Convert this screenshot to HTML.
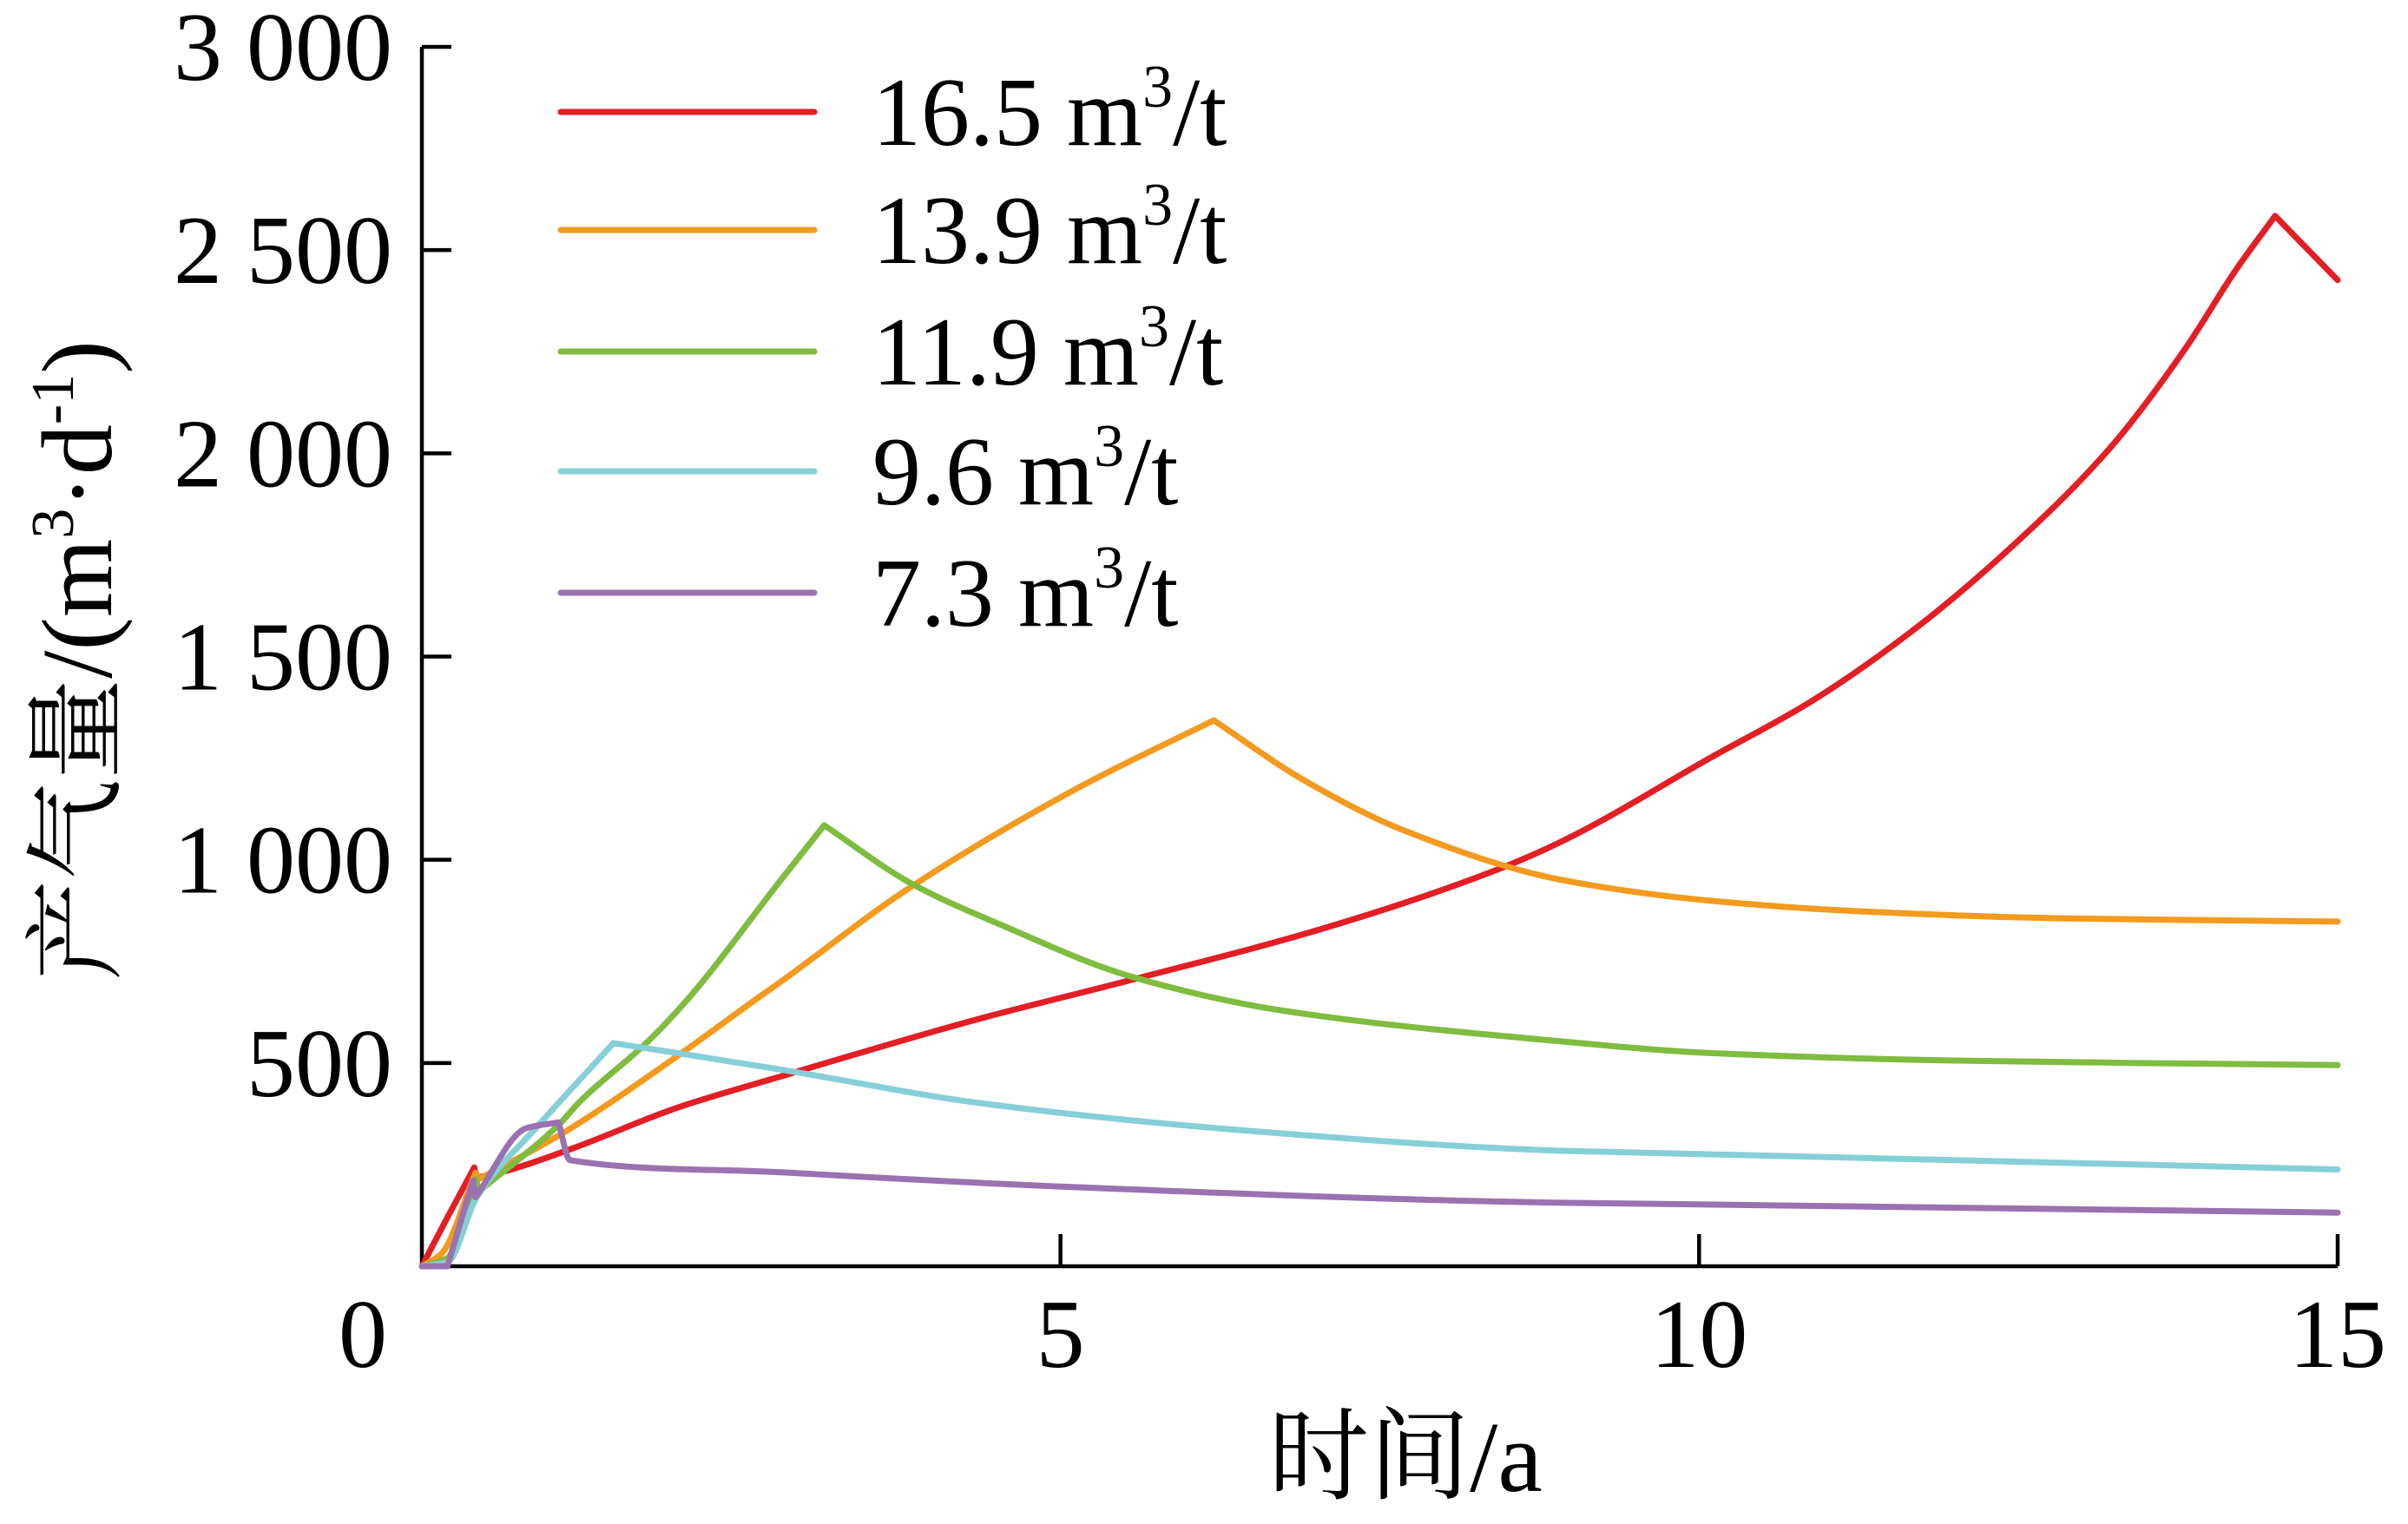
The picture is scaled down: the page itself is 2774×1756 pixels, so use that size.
<!DOCTYPE html>
<html><head><meta charset="utf-8"><style>
html,body{margin:0;padding:0;background:#fff;}
svg text{font-family:"Liberation Serif","Noto Serif CJK SC",serif;fill:#000;}
</style></head><body>
<svg id="chart" width="2774" height="1751" viewBox="0 0 2774 1751" xmlns="http://www.w3.org/2000/svg">
<g id="axes"></g>
<g id="series"></g>
<g id="legend"></g>
<text x="1619" y="1718" font-size="116" text-anchor="middle">时间/a</text>
<text transform="translate(128,761) rotate(-90)" font-size="116" text-anchor="middle">产气量/(m<tspan font-size="70" dy="-44">3</tspan><tspan dy="44">·d</tspan><tspan font-size="70" dy="-44">-1</tspan><tspan dy="44">)</tspan></text>
</svg>
<script>
const xTicks=[0,5,10,15];
const yTicks=[500,1000,1500,2000,2500,3000];
const yTickLabels=["500","1 000","1 500","2 000","2 500","3 000"];
const seriesNames=["16.5 m³/t","13.9 m³/t","11.9 m³/t","9.6 m³/t","7.3 m³/t"];
const seriesColors=["#e31e24","#f39a1f","#7fbc3f","#86cfd8","#9a72b0"];
const redT=[0,0.2,0.41,0.43,0.64,1.18,2.0,2.81,4.38,5.55,7.1,8.47,8.93,10.1,10.88,11.66,12.44,13.22,13.81,14.2,14.51,15];
const redV=[0,120,243,218,233,290,390,467,610,704,835,982,1046,1253,1390,1561,1768,2014,2259,2450,2584,2426];
const orangeT=[0,0.15,0.42,0.45,1.09,2.0,2.63,2.81,3.79,5.15,6.2,6.91,7.69,8.93,10.1,11.27,12.83,15];
const orangeV=[0,30,230,215,325,517,660,700,925,1179,1343,1195,1072,950,899,873,856,848];
const greenT=[0,0.2,0.42,0.45,1.09,1.23,1.77,2.09,2.81,3.15,3.83,4.57,5.55,6.72,8.93,10,12,15];
const greenV=[0,20,215,185,354,403,553,660,950,1085,942,835,713,630,553,526,506,495];
const cyanT=[0,0.2,0.41,0.43,0.91,1.5,2.79,4.38,6.33,8.93,10,12,15];
const cyanV=[0,10,158,170,346,549,485,401,337,284,276,261,238];
const purpleT=[0,0.2,0.4,0.42,0.82,1.07,1.16,2.81,5,8.93,10,15];
const purpleV=[0,0,211,170,340,354,261,231,196,156,152,132];
const allT=[redT,orangeT,greenT,cyanT,purpleT];
const allV=[redV,orangeV,greenV,cyanV,purpleV];
const X0=486,X1=2693,Y0=1459,Y1=54;
const sx=t=>X0+(X1-X0)*t/15;
const sy=v=>Y0-(Y0-Y1)*v/3000;
const NS="http://www.w3.org/2000/svg";
function mk(tag,attrs,parent){const e=document.createElementNS(NS,tag);for(const k in attrs)e.setAttribute(k,attrs[k]);parent.appendChild(e);return e;}
function monoPath(xs,ys){
 const n=xs.length,d=[],mIn=[],mOut=[];
 for(let i=0;i<n-1;i++)d.push((ys[i+1]-ys[i])/(xs[i+1]-xs[i]));
 for(let i=0;i<n;i++){
  if(i===0){mIn.push(d[0]);mOut.push(d[0]);}
  else if(i===n-1){mIn.push(d[n-2]);mOut.push(d[n-2]);}
  else if(d[i-1]*d[i]<=0){mIn.push(d[i-1]);mOut.push(d[i]);}
  else{const w1=2*(xs[i+1]-xs[i])+(xs[i]-xs[i-1]),w2=(xs[i+1]-xs[i])+2*(xs[i]-xs[i-1]);const m=(w1+w2)/(w1/d[i-1]+w2/d[i]);mIn.push(m);mOut.push(m);}
 }
 let p='M'+xs[0].toFixed(1)+' '+ys[0].toFixed(1);
 for(let i=0;i<n-1;i++){const h=xs[i+1]-xs[i];
  const a=mOut[i],b=mIn[i+1];
  p+='C'+(xs[i]+h/3).toFixed(1)+' '+(ys[i]+a*h/3).toFixed(1)+' '+(xs[i+1]-h/3).toFixed(1)+' '+(ys[i+1]-b*h/3).toFixed(1)+' '+xs[i+1].toFixed(1)+' '+ys[i+1].toFixed(1);}
 return p;
}
const axes=document.getElementById('axes');
const ax=mk('path',{d:`M${X0} ${Y1}V${Y0}H${X1}`,stroke:'#000','stroke-width':4.5,fill:'none'},axes);


yTicks.forEach((v,i)=>{
 const l=mk('path',{d:`M${X0} ${sy(v)}H${X0+34}`,stroke:'#000','stroke-width':4.5},axes);
 
 
 const tx=mk('text',{x:452,y:sy(v)+38,'font-size':112,'text-anchor':'end'},axes);
 tx.textContent=yTickLabels[i];
 
 
});
xTicks.forEach(t=>{
 if(t>0){const l=mk('path',{d:`M${sx(t)} ${Y0}V${Y0-37}`,stroke:'#000','stroke-width':4.5},axes);
 
 }
 const tx=mk('text',{x:t===0?418:sx(t),y:1575,'font-size':112,'text-anchor':'middle'},axes);
 tx.textContent=String(t);
 
 
});
const sg=document.getElementById('series');
allT.forEach((ts,i)=>{
 const d=monoPath(ts.map(sx),allV[i].map(sy));
 const p=mk('path',{d:d,stroke:seriesColors[i],'stroke-width':7,fill:'none','stroke-linejoin':'round','stroke-linecap':'round'},sg);
 
 
});
const lg=document.getElementById('legend');
const rows=[129,265,405,543,683];
seriesNames.forEach((n,i)=>{
 const l=mk('path',{d:`M646 ${rows[i]}H938`,stroke:seriesColors[i],'stroke-width':7,'stroke-linecap':'round'},lg);
 
 
 const parts=n.split('³');
 const tx=mk('text',{x:1005,y:rows[i]+38,'font-size':112},lg);
 
 
 const a=mk('tspan',{},tx);a.textContent=parts[0];
 const b=mk('tspan',{'font-size':70,dy:-44},tx);b.textContent='3';
 const c=mk('tspan',{dy:44},tx);c.textContent=parts[1];
});
</script>
</body></html>
